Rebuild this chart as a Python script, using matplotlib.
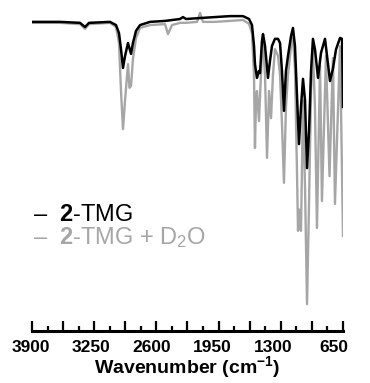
import numpy as np
import matplotlib
matplotlib.use("Agg")
import matplotlib.pyplot as plt
from matplotlib.ticker import FixedLocator
from matplotlib.transforms import blended_transform_factory

plt.rcParams["font.family"] = ["Liberation Sans", "DejaVu Sans"]
plt.rcParams["mathtext.fontset"] = "custom"
plt.rcParams["mathtext.rm"] = "Liberation Sans"
plt.rcParams["mathtext.bf"] = "Liberation Sans:bold"
plt.rcParams["mathtext.it"] = "Liberation Sans:italic"

# IR spectrum of 2-TMG (black): wavenumber (cm-1), %T
wn_tmg = [3900, 3607, 3398, 3346, 3304, 3085, 3022, 2991, 2970, 2949, 2928, 2897,
          2865, 2845, 2813, 2771, 2667, 2510, 2353, 2322, 2291, 2144, 1988, 1831,
          1695, 1632, 1601, 1580, 1570, 1549, 1528, 1517, 1497, 1486, 1465, 1434,
          1413, 1392, 1361, 1329, 1308, 1288, 1267, 1246, 1225, 1193, 1173, 1152,
          1110, 1089, 1068, 1047, 1026, 1005, 984, 964, 943, 911, 880, 838,
          817, 786, 755, 723, 681, 660, 650]
t_tmg = [96.6, 96.6, 96.3, 95.0, 96.3, 96.6, 95.6, 93.1, 88.1, 82.2, 85.9, 90.0,
         86.6, 90.0, 93.8, 95.6, 96.6, 96.9, 97.5, 98.1, 97.5, 97.8, 98.1, 98.4,
         98.4, 97.5, 95.6, 89.1, 83.4, 79.1, 81.3, 80.6, 90.6, 92.8, 89.1, 79.1,
         84.4, 89.1, 91.3, 91.3, 90.0, 81.3, 68.8, 81.3, 85.9, 92.2, 94.7, 89.1,
         58.4, 70.0, 78.8, 72.0, 50.9, 62.5, 81.3, 91.3, 88.0, 79.1, 86.9, 91.3,
         86.0, 78.1, 82.0, 88.0, 91.6, 91.3, 70.0]

# 2-TMG + D2O (grey)
wn_d2o = [3900, 3607, 3398, 3346, 3304, 3085, 3022, 2991, 2970, 2949, 2928, 2897,
          2881, 2865, 2845, 2813, 2771, 2667, 2510, 2479, 2437, 2353, 2291, 2175,
          2144, 2113, 1988, 1831, 1695, 1632, 1601, 1580, 1570, 1559, 1549, 1528,
          1497, 1486, 1465, 1444, 1423, 1402, 1382, 1361, 1329, 1308, 1288, 1267,
          1246, 1225, 1193, 1173, 1152, 1131, 1120, 1110, 1089, 1068, 1047, 1026,
          1005, 984, 964, 943, 922, 890, 870, 828, 791, 755, 734, 681, 650]
t_d2o = [96.3, 96.3, 95.9, 94.4, 95.9, 96.3, 95.0, 90.0, 75.0, 63.1, 72.0, 83.4,
         76.0, 76.6, 85.0, 91.6, 94.7, 95.6, 95.9, 92.8, 95.6, 96.3, 96.3, 96.6,
         99.4, 96.6, 96.6, 96.9, 97.2, 96.0, 93.0, 80.0, 57.2, 72.0, 75.0, 65.6,
         87.5, 90.0, 80.0, 54.1, 75.0, 66.5, 80.0, 88.1, 86.0, 80.0, 65.0, 46.3,
         70.0, 80.0, 89.0, 91.6, 82.0, 50.0, 31.3, 38.0, 31.3, 72.0, 45.0, 8.4,
         40.0, 75.0, 87.5, 70.0, 32.2, 83.0, 40.6, 86.0, 48.4, 85.3, 39.7, 89.0, 29.7]

major_ticks = np.arange(650, 3901, 325)
minor_ticks = np.arange(812.5, 3900, 325)
# tick labels sit slightly left of their ticks in the original
tick_text = ["3900", "3250", "2600", "1950", "1300", "650"]
tick_text_pos = [3910, 3283, 2646, 2019, 1382, 744]

grey = "#a6a6a6"

fig = plt.figure(figsize=(3.70, 3.83), dpi=100)
ax = fig.add_axes([32 / 370, 52 / 383, 311 / 370, 320 / 383])

ax.plot(wn_d2o, t_d2o, color=grey, lw=1.7, solid_joinstyle="round")
ax.plot(wn_tmg, t_tmg, color="black", lw=1.8, solid_joinstyle="round")

ax.set_xlim(3900, 650)
ax.set_ylim(0, 100)

for side in ("left", "right", "top"):
    ax.spines[side].set_visible(False)
ax.spines["bottom"].set_linewidth(2.2)
ax.set_yticks([])

ax.xaxis.set_major_locator(FixedLocator(major_ticks))
ax.xaxis.set_minor_locator(FixedLocator(minor_ticks))
ax.tick_params(axis="x", which="major", direction="in", length=7.5, width=1.6,
               labelbottom=False)
ax.tick_params(axis="x", which="minor", direction="in", length=3.8, width=1.6)

trans = blended_transform_factory(ax.transData, ax.transAxes)
for pos, txt in zip(tick_text_pos, tick_text):
    ax.text(pos, -0.067, txt, transform=trans, ha="center", va="baseline",
            fontsize=12.5, fontweight="bold")

ax.text(0.5, -0.131, r"Wavenumber (cm$^{\mathbf{-1}}$)", transform=ax.transAxes,
        ha="center", va="baseline", fontsize=14, fontweight="bold")

ax.text(0.003, 0.345, r"–  $\mathbf{2}$-TMG", transform=ax.transAxes,
        fontsize=17, color="black", ha="left", va="baseline")
ax.text(0.003, 0.272, r"–  $\mathbf{2}$-TMG + D$_2$O", transform=ax.transAxes,
        fontsize=17, color=grey, ha="left", va="baseline")

fig.savefig("out.png", dpi=100)
